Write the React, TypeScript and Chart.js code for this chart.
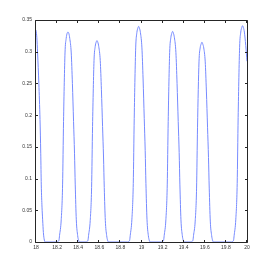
import React, { useEffect, useRef } from "react";
import { Chart, registerables } from "chart.js";

Chart.register(...registerables);

// time samples (x) and signal values (y)
const timeValues: number[] = [
  // pulse 0 (tail)
  18.0, 18.008, 18.015, 18.027, 18.038, 18.045, 18.05, 18.057, 18.063, 18.07, 18.079, 18.09,
  // pulse 1
  18.199, 18.21, 18.218, 18.223, 18.239, 18.252, 18.261, 18.275, 18.286, 18.295, 18.303,
  18.311, 18.32, 18.334, 18.345, 18.356, 18.365, 18.372, 18.382, 18.395, 18.403, 18.413,
  // pulse 2
  18.474, 18.485, 18.493, 18.498, 18.514, 18.527, 18.536, 18.55, 18.561, 18.57, 18.578,
  18.586, 18.595, 18.609, 18.62, 18.631, 18.64, 18.647, 18.657, 18.67, 18.678, 18.688,
  // pulse 3
  18.869, 18.88, 18.888, 18.893, 18.909, 18.922, 18.931, 18.945, 18.956, 18.965, 18.973,
  18.981, 18.99, 19.004, 19.015, 19.026, 19.035, 19.042, 19.052, 19.065, 19.073, 19.083,
  // pulse 4
  19.191, 19.202, 19.21, 19.215, 19.231, 19.244, 19.253, 19.267, 19.278, 19.287, 19.295,
  19.303, 19.312, 19.326, 19.337, 19.348, 19.357, 19.364, 19.374, 19.387, 19.395, 19.405,
  // pulse 5
  19.469, 19.48, 19.488, 19.493, 19.509, 19.522, 19.531, 19.545, 19.556, 19.565, 19.573,
  19.581, 19.59, 19.604, 19.615, 19.626, 19.635, 19.642, 19.652, 19.665, 19.673, 19.683,
  // pulse 6
  19.854, 19.865, 19.873, 19.878, 19.894, 19.907, 19.916, 19.93, 19.941, 19.95, 19.958,
  19.966, 19.975, 19.988, 20.0,
];

const signalValues: number[] = [
  // pulse 0 (tail)
  0.334, 0.322, 0.298, 0.25, 0.193, 0.14, 0.09, 0.055, 0.035, 0.015, 0.003, 0,
  // pulse 1
  0, 0.001, 0.003, 0.01, 0.035, 0.09, 0.19, 0.298, 0.321, 0.329, 0.331,
  0.329, 0.321, 0.298, 0.25, 0.19, 0.14, 0.09, 0.035, 0.01, 0.003, 0,
  // pulse 2
  0, 0.001, 0.003, 0.01, 0.034, 0.086, 0.182, 0.286, 0.308, 0.315, 0.3175,
  0.315, 0.308, 0.286, 0.24, 0.182, 0.134, 0.086, 0.034, 0.01, 0.003, 0,
  // pulse 3
  0, 0.001, 0.003, 0.01, 0.036, 0.092, 0.195, 0.306, 0.33, 0.337, 0.34,
  0.337, 0.33, 0.306, 0.257, 0.195, 0.144, 0.092, 0.036, 0.01, 0.003, 0,
  // pulse 4
  0, 0.001, 0.003, 0.01, 0.035, 0.09, 0.19, 0.299, 0.322, 0.329, 0.332,
  0.329, 0.322, 0.299, 0.25, 0.19, 0.141, 0.09, 0.035, 0.01, 0.003, 0,
  // pulse 5
  0, 0.001, 0.003, 0.01, 0.033, 0.085, 0.181, 0.284, 0.306, 0.312, 0.315,
  0.312, 0.306, 0.284, 0.238, 0.181, 0.133, 0.085, 0.033, 0.01, 0.003, 0,
  // pulse 6
  0, 0.001, 0.003, 0.01, 0.036, 0.092, 0.196, 0.307, 0.331, 0.338, 0.341,
  0.338, 0.331, 0.31, 0.285,
];

const xTickValues: number[] = [18, 18.2, 18.4, 18.6, 18.8, 19, 19.2, 19.4, 19.6, 19.8, 20];
const yTickValues: number[] = [0, 0.05, 0.1, 0.15, 0.2, 0.25, 0.3, 0.35];

const boxPlugin = {
  id: "matlabBox",
  afterDatasetsDraw(chart: any) {
    const { ctx, chartArea } = chart;
    const l = chartArea.left - 0.5;
    const t = chartArea.top + 0.5;
    const r = chartArea.right + 0.5;
    const b = chartArea.bottom + 0.5;
    const tl = 2.5;
    ctx.save();
    ctx.strokeStyle = "#262626";
    ctx.lineWidth = 1;
    ctx.beginPath();
    ctx.rect(l, t, r - l, b - t);
    const xs = chart.scales.x;
    const ys = chart.scales.y;
    for (const v of xTickValues) {
      const px = Math.round(xs.getPixelForValue(v)) - 0.5;
      ctx.moveTo(px, b);
      ctx.lineTo(px, b - tl);
      ctx.moveTo(px, t);
      ctx.lineTo(px, t + tl);
    }
    for (const v of yTickValues) {
      const py = Math.round(ys.getPixelForValue(v)) + 0.5;
      ctx.moveTo(l, py);
      ctx.lineTo(l + tl, py);
      ctx.moveTo(r, py);
      ctx.lineTo(r - tl, py);
    }
    ctx.stroke();
    ctx.restore();
  },
};

const fmt = (v: number) => String(Number(Number(v).toFixed(4)));

export default function App() {
  const ref = useRef<HTMLCanvasElement | null>(null);
  useEffect(() => {
    if (!ref.current) return;
    const points = timeValues.map((x, i) => ({ x, y: signalValues[i] }));
    const font = { family: "'Liberation Sans', Arial, sans-serif", size: 5 };
    const chart = new Chart(ref.current, {
      type: "line",
      data: {
        datasets: [
          {
            data: points,
            borderColor: "rgb(118,138,255)",
            borderWidth: 1,
            pointRadius: 0,
            cubicInterpolationMode: "monotone",
            fill: false,
          },
        ],
      },
      options: {
        responsive: false,
        animation: false,
        events: [],
        layout: { padding: { left: 0, top: 20, right: 26, bottom: 0 } },
        plugins: { legend: { display: false }, tooltip: { enabled: false } },
        scales: {
          x: {
            type: "linear",
            min: 18,
            max: 20,
            afterBuildTicks: (s: any) => {
              s.ticks = xTickValues.map((value) => ({ value }));
            },
            afterFit: (s: any) => {
              s.height = 31;
            },
            grid: { display: false, drawTicks: false },
            border: { display: false },
            ticks: {
              padding: 3,
              color: "#333",
              font,
              maxRotation: 0,
              autoSkip: false,
              callback: (v: any) => fmt(v),
            },
          },
          y: {
            type: "linear",
            min: 0,
            max: 0.35,
            afterBuildTicks: (s: any) => {
              s.ticks = yTickValues.map((value) => ({ value }));
            },
            afterFit: (s: any) => {
              s.width = 36;
            },
            grid: { display: false, drawTicks: false },
            border: { display: false },
            ticks: {
              padding: 4,
              color: "#333",
              font,
              autoSkip: false,
              callback: (v: any) => fmt(v),
            },
          },
        },
      } as any,
      plugins: [boxPlugin],
    });
    return () => chart.destroy();
  }, []);
  return (
    <div style={{ position: "absolute", left: 0, top: 0, width: 273, height: 273, background: "#fff" }}>
      <canvas ref={ref} width={273} height={273} style={{ display: "block", width: 273, height: 273 }} />
    </div>
  );
}
